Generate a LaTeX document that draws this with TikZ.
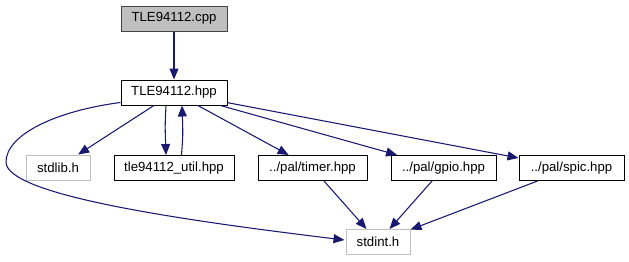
\documentclass[tikz,border=0pt]{standalone}
\usepackage{fontspec}
\setmainfont{Liberation Sans}
\usetikzlibrary{arrows.meta,calc}
\definecolor{edgeblue}{HTML}{191970}
\definecolor{lightframe}{HTML}{BFBFBF}
\definecolor{rootfill}{HTML}{BFBFBF}
\definecolor{rootframe}{HTML}{444444}
\begin{document}
\begin{tikzpicture}[x=0.75pt,y=-0.75pt,
  file/.style={draw=black,line width=0.75pt,minimum height=18.75pt,inner sep=0pt,
    font=\fontsize{9.9}{11}\selectfont},
  rootfile/.style={file,draw=rootframe,fill=rootfill},
  sysfile/.style={file,draw=lightframe},
  dep/.style={draw=edgeblue,line width=0.8pt,-{Triangle[length=8.25pt,width=6.75pt]}}]
\useasboundingbox (0,0) rectangle (629,261);

% files
\node[rootfile,minimum width=79.5pt] (cpp) at (174,18.5) {TLE94112.cpp};
\node[file,minimum width=79.5pt] (hpp) at (174,92.5) {TLE94112.hpp};
\node[sysfile,minimum width=48pt] (stdlib) at (58,167.5) {stdlib.h};
\node[file,minimum width=90pt] (util) at (174,168) {tle94112\_util.hpp};
\node[file,minimum width=81.75pt] (timer) at (312.5,168) {../pal/timer.hpp};
\node[file,minimum width=78.75pt] (gpio) at (443.5,168) {../pal/gpio.hpp};
\node[file,minimum width=78.75pt] (spic) at (571.5,168) {../pal/spic.hpp};
\node[sysfile,minimum width=48pt] (stdint) at (378,242) {stdint.h};

% includes
\draw[dep] (cpp) -- (hpp);
\draw[dep] (hpp) -- (stdlib);
\draw[dep] ($(hpp.south)+(-8,0)$) .. controls ($(hpp.south)+(-9,20)$) .. ($(util.north)+(-8,0)$);
\draw[dep] ($(util.north)+(7.5,0)$) .. controls ($(util.north)+(9,-20)$) .. ($(hpp.south)+(8,0)$);
\draw[dep] (hpp) -- (timer);
\draw[dep] (hpp) -- (gpio);
\draw[dep] (hpp) -- (spic);
\draw[dep] ($(hpp.south west)+(0,-3)$) .. controls (55,111) and (6,135) .. (6,162)
  .. controls (6,195) and (180,220) .. ($(stdint.west)+(-1,-2)$);
\draw[dep] (timer) -- (stdint);
\draw[dep] (gpio) -- (stdint);
\draw[dep] (spic) -- (stdint);
\end{tikzpicture}
\end{document}
